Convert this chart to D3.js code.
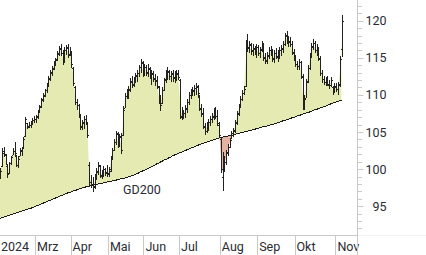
<!DOCTYPE html>
<html><head><meta charset="utf-8">
<script src="https://cdn.jsdelivr.net/npm/d3@7"></script>
<style>
html,body{margin:0;padding:0;background:#fff;overflow:hidden;}
svg{display:block;font-family:Roboto,"Open Sans",sans-serif;}
</style>
</head><body>
<svg id="chart" width="426" height="255"></svg>
<script>
// ---- data ----
const startDate = "2024-02-01";
const endDate = "2024-11-06";
const holidays = ["2024-03-29","2024-04-01","2024-05-01","2024-05-09","2024-05-20","2024-08-01"];
const monthLabels = ["2024","Mrz","Apr","Mai","Jun","Jul","Aug","Sep","Okt","Nov"];
const yTickValues = [95,100,105,110,115,120];
const maLabel = "GD200";

const opens = [
98.6,98.9,100.4,102.2,101.9,100.4,99.5,100.8,101.9,102.4,101.8,100.6,101.7,102.5,102.9,104.4,106.2,105.8,105.9,106.3,106.6,
106.8,107.1,107.8,108.5,109.3,110.0,110.6,111.4,112.2,113.1,113.5,114.3,114.8,115.5,116.3,115.6,114.6,116.0,116.4,115.5,
115.8,113.6,111.1,109.0,108.7,107.2,105.7,106.3,106.8,106.2,100.6,98.3,98.0,97.7,98.9,99.7,100.4,99.1,99.4,100.0,99.5,
99.5,100.0,101.4,102.6,103.6,104.7,103.2,104.3,104.6,108.3,109.8,110.2,110.7,111.8,111.4,112.1,112.6,113.0,113.8,114.3,
113.1,113.7,113.0,113.5,112.5,112.9,112.3,111.9,111.0,109.3,108.9,110.7,112.1,112.8,113.1,112.5,112.8,112.3,112.7,112.9,
112.0,107.0,107.5,107.5,108.1,109.1,110.0,110.3,110.5,110.9,111.1,109.9,108.1,107.4,105.7,105.1,105.7,106.3,106.8,107.1,107.8,107.1,106.0,
104.0,99.0,100.5,101.0,102.3,103.0,104.2,104.9,105.3,106.2,107.5,108.4,109.4,110.3,111.2,117.2,116.3,116.7,116.0,116.2,115.9,
116.4,115.6,116.2,116.8,115.1,114.7,115.3,116.0,115.7,114.9,115.7,115.1,115.5,116.0,116.3,116.8,118.1,117.3,117.1,116.9,115.7,
115.0,114.1,113.9,114.4,112.4,108.9,109.6,111.9,113.6,115.2,116.5,117.0,116.0,116.1,114.8,113.0,112.1,111.8,111.9,111.4,111.3,111.1,110.5,
111.1,110.8,111.5,116.2];

const highs = [
99.2,100.1,102.8,103.0,102.0,100.5,101.0,101.8,102.8,103.6,101.9,101.7,102.8,103.0,104.3,107.0,106.2,106.3,106.5,106.9,107.1,
107.3,108.0,108.7,109.6,110.2,110.8,111.6,112.6,113.3,113.9,114.6,115.0,115.9,116.6,116.8,116.0,116.4,116.7,116.8,116.5,
115.9,113.8,111.2,109.4,108.8,107.4,106.6,107.2,107.3,106.4,101.0,99.2,99.0,99.3,100.2,101.0,100.6,99.9,100.4,100.2,100.5,
100.3,101.8,102.8,104.0,105.2,105.0,104.7,104.8,108.5,110.3,110.8,111.2,112.3,112.6,112.4,113.0,113.4,114.0,114.8,114.6,
114.2,114.0,114.2,113.8,113.4,113.2,112.8,112.6,111.2,110.0,111.0,112.3,113.4,113.7,113.4,113.2,113.4,113.2,113.4,113.3,
112.2,108.4,108.0,108.6,109.4,110.4,110.8,111.0,111.4,111.6,111.4,110.0,108.8,108.2,106.2,106.4,106.8,107.2,107.6,108.2,108.4,108.0,106.4,
104.3,102.3,101.8,102.6,103.4,104.2,105.2,105.6,106.6,107.8,108.8,109.8,110.6,111.2,117.4,118.2,117.3,117.0,116.8,116.6,116.8,
116.7,116.5,117.3,117.0,115.6,115.8,116.4,116.6,116.2,116.0,116.3,116.0,116.4,116.7,117.2,118.3,118.6,118.0,117.8,117.2,116.2,
115.4,114.6,114.8,114.6,112.8,110.0,112.2,114.0,115.6,117.0,117.6,117.2,116.8,116.4,115.2,113.4,112.6,112.4,112.6,112.0,112.4,111.2,111.6,
111.6,111.8,115.2,120.8];

const lows = [
97.8,98.8,100.3,101.6,100.5,98.8,99.4,100.6,101.9,101.8,100.3,100.1,101.7,101.8,102.8,104.3,105.4,105.5,105.6,105.9,106.2,
106.2,106.8,107.6,108.2,109.0,109.7,110.3,111.0,111.9,112.6,113.3,113.9,114.6,115.2,115.2,114.0,114.5,115.4,115.0,115.2,
113.6,111.2,108.6,108.0,106.9,105.3,105.3,105.4,106.0,104.2,97.6,97.5,96.9,97.3,98.5,99.2,98.8,98.7,98.9,99.1,98.9,
99.0,99.6,101.2,102.4,103.2,102.8,103.0,102.0,104.4,108.2,109.4,109.5,110.4,110.9,111.0,111.6,111.8,112.4,113.0,112.4,
112.6,112.5,112.4,112.2,111.4,111.8,111.2,110.8,108.8,107.8,108.8,110.5,111.6,112.0,112.0,111.8,111.8,111.6,111.9,112.0,
106.8,106.6,106.8,106.9,107.6,108.6,109.4,109.8,109.8,110.0,109.6,107.8,107.0,105.4,104.6,104.8,105.2,105.8,106.2,106.6,106.8,105.8,104.2,
99.5,97.0,99.6,100.6,101.8,102.8,104.1,104.3,104.8,105.9,107.2,108.2,109.2,110.0,111.0,115.8,115.6,115.4,115.2,115.4,115.0,
115.2,115.0,115.8,114.6,114.2,114.2,114.8,115.2,114.5,114.3,114.8,114.5,114.8,115.2,115.6,116.6,116.9,116.5,116.4,115.4,114.6,
113.8,113.4,113.4,112.2,107.9,108.0,109.6,111.6,113.4,115.0,116.0,115.6,115.2,114.6,112.6,111.6,111.3,111.2,111.2,110.8,111.0,110.0,110.2,
110.4,110.0,111.0,115.1];

const closes = [
98.8,99.8,102.4,102.0,100.7,99.3,100.8,101.6,102.5,102.2,100.6,101.4,102.6,102.8,104.0,106.7,105.7,106.0,106.3,106.6,106.8,
107.0,107.8,108.4,109.4,109.9,110.6,111.3,112.3,113.0,113.6,114.2,114.7,115.6,116.2,115.7,114.5,116.0,116.3,115.4,115.9,
114.2,111.6,109.0,108.6,107.3,105.8,106.2,106.8,106.4,104.6,98.2,98.0,97.6,98.8,99.6,100.5,99.2,99.4,100.0,99.6,99.4,
99.8,101.5,102.6,103.7,104.8,103.3,104.4,102.6,108.0,109.9,110.3,110.8,111.9,111.5,112.0,112.7,113.0,113.7,114.4,113.0,
113.8,113.1,113.6,112.6,112.8,112.2,112.0,111.2,109.4,108.6,110.6,112.0,112.9,113.2,112.6,112.9,112.4,112.6,112.8,112.4,
107.2,107.4,107.6,108.2,109.0,110.0,110.4,110.6,110.9,111.2,110.2,108.2,107.6,105.8,105.2,105.6,106.4,106.8,107.0,107.8,107.2,106.2,104.6,
100.0,100.4,101.0,102.2,103.0,103.9,104.9,105.2,106.3,107.4,108.4,109.5,110.2,110.8,117.0,116.4,116.8,115.9,116.3,115.8,116.4,
115.6,116.1,117.0,115.0,114.6,115.4,116.0,115.6,115.0,115.6,115.2,115.4,116.0,116.2,116.9,118.0,117.4,117.2,116.8,115.8,115.0,
114.2,113.9,114.4,112.6,108.8,109.4,111.8,113.6,115.2,116.6,117.0,116.0,116.2,115.0,113.0,112.2,111.8,111.9,111.5,111.3,112.0,110.5,111.2,
110.8,111.4,114.8,119.9];

const gd200 = [
93.3,93.4,93.45,93.55,93.6,93.7,93.8,93.85,93.95,94.0,94.1,94.2,94.25,94.35,94.4,94.5,94.55,94.65,94.7,94.8,
94.9,95.0,95.1,95.2,95.3,95.4,95.5,95.6,95.7,95.8,95.9,96.0,96.1,96.2,
96.3,96.4,96.5,96.6,96.7,96.8,96.85,96.95,97.05,97.1,97.2,97.3,
97.35,97.45,97.5,97.6,97.65,97.75,97.8,
97.85,97.9,97.95,98.0,98.05,98.1,98.15,98.2,98.25,98.3,98.35,98.4,98.45,98.5,98.6,
98.65,98.7,98.75,98.8,98.9,98.95,99.0,99.1,99.2,
99.3,99.4,99.5,99.65,99.75,99.85,99.95,100.1,100.2,
100.3,100.45,100.55,100.7,100.8,100.95,101.05,101.2,101.3,101.4,101.55,101.65,101.8,101.9,
102.0,102.1,102.2,102.3,102.4,102.5,102.6,102.7,102.8,102.9,103.0,103.1,103.2,
103.3,103.4,103.45,103.55,103.65,103.7,103.8,103.9,103.95,104.05,104.1,104.2,
104.25,104.3,104.35,104.4,104.45,104.5,104.55,104.6,104.7,104.75,104.8,104.9,
104.95,105.0,105.05,105.1,105.2,105.25,105.3,
105.35,105.45,105.5,105.6,105.65,105.7,105.75,105.8,105.9,105.95,106.0,
106.1,106.15,106.25,106.3,106.4,106.5,106.55,106.65,106.7,106.8,
106.9,106.95,107.05,107.15,107.2,107.3,107.4,107.45,107.55,107.6,107.7,
107.8,107.9,108.0,108.05,108.15,108.25,108.3,108.4,
108.5,108.6,108.7,108.8,108.9,109.0,109.05,109.15,109.2,109.3];

// ---- trading calendar ----
const fmt = d3.timeFormat("%Y-%m-%d");
const parse = d3.timeParse("%Y-%m-%d");
const dates = d3.timeDay.range(parse(startDate), d3.timeDay.offset(parse(endDate), 1))
  .filter(d => d.getDay() !== 0 && d.getDay() !== 6 && !holidays.includes(fmt(d)));

const data = dates.map((d, i) => ({
  i, date: d, o: opens[i], h: highs[i], l: lows[i], c: closes[i], ma: gd200[i],
  mid: (highs[i] + lows[i]) / 2
}));

// ---- layout ----
const W = 426, H = 255;
const plotR = 357.5, axisY = 235;
const svg = d3.select("#chart");

const x = d3.scaleLinear().domain([0, dates.length - 1]).range([-1.4, 341.6]);
const y = d3.scaleLinear().domain([95, 120]).range([206.2, 20.7]);

const defs = svg.append("defs");
defs.append("clipPath").attr("id", "plot").append("rect")
  .attr("x", 0).attr("y", 0).attr("width", plotR).attr("height", axisY);

const maLine = d3.line().x(d => x(d.i)).y(d => y(d.ma));
const first = data[0], last = data[data.length - 1];
const maPath = maLine(data).slice(1);
defs.append("clipPath").attr("id", "above").append("path")
  .attr("d", `M${x(first.i)},-50L${maPath}L${x(last.i)},-50Z`);
defs.append("clipPath").attr("id", "below").append("path")
  .attr("d", `M${x(first.i)},400L${maPath}L${x(last.i)},400Z`);

const g = svg.append("g").attr("clip-path", "url(#plot)");

const area = d3.area().x(d => x(d.i)).y0(d => y(d.ma)).y1(d => y(d.mid));
g.append("g").attr("clip-path", "url(#above)").append("path")
  .attr("d", area(data)).attr("fill", "#e5eab3");
g.append("g").attr("clip-path", "url(#below)").append("path")
  .attr("d", area(data)).attr("fill", "#e2b3a3");

g.append("path").attr("d", maLine(data)).attr("fill", "none")
  .attr("stroke", "#1a1a1a").attr("stroke-width", 1).attr("shape-rendering", "crispEdges");

// OHLC bars
const bars = g.append("g").attr("fill", "#222").attr("shape-rendering", "crispEdges");
data.forEach(d => {
  const xi = Math.round(x(d.i));
  const yh = Math.round(y(d.h)), yl = Math.round(y(d.l));
  bars.append("rect").attr("x", xi).attr("y", yh).attr("width", 1).attr("height", Math.max(1, yl - yh));
  bars.append("rect").attr("x", xi - 1).attr("y", Math.round(y(d.o))).attr("width", 1).attr("height", 1);
  bars.append("rect").attr("x", xi + 1).attr("y", Math.round(y(d.c))).attr("width", 1).attr("height", 1);
});

// GD200 label
const labelIdx = 70;
svg.append("text").attr("x", x(labelIdx)).attr("y", y(data[labelIdx].ma) + 15.6)
  .attr("font-size", 12.5).attr("fill", "#2b2b33").text(maLabel);

// ---- axes ----
const axisColor = "#c9c9c9";
svg.append("line").attr("x1", 0).attr("x2", plotR).attr("y1", axisY + 0.5).attr("y2", axisY + 0.5)
  .attr("stroke", axisColor);
svg.append("line").attr("x1", plotR).attr("x2", W).attr("y1", axisY + 0.5).attr("y2", axisY + 0.5)
  .attr("stroke", "#f2f2f2");
svg.append("line").attr("x1", plotR).attr("x2", plotR).attr("y1", 0).attr("y2", axisY + 1)
  .attr("stroke", axisColor);

// y ticks
const minorTicks = d3.range(92, 123);
minorTicks.forEach(v => {
  const yy = Math.round(y(v)) + 0.5;
  const major = yTickValues.includes(v);
  svg.append("line").attr("x1", plotR).attr("x2", plotR + (major ? 6 : 4.5))
    .attr("y1", yy).attr("y2", yy).attr("stroke", axisColor);
});
yTickValues.forEach(v => {
  svg.append("text").attr("x", 386.5).attr("y", y(v)).attr("dy", "0.36em")
    .attr("text-anchor", "end").attr("font-size", 12.5).attr("fill", "#2b2b33").text(v);
});

// month separators
const monthStarts = [];
data.forEach((d, i) => {
  if (i === 0 || d.date.getMonth() !== data[i - 1].date.getMonth()) monthStarts.push(i);
});
monthStarts.forEach((k, j) => {
  const sx = x(k - 0.5);
  const px = Math.round(sx) + 0.5;
  if (sx > 0) svg.append("line").attr("x1", px).attr("x2", px).attr("y1", axisY).attr("y2", H)
    .attr("stroke", axisColor);
  svg.append("text").attr("x", Math.max(1, sx + 2)).attr("y", 251)
    .attr("font-size", 12.5).attr("fill", "#2b2b33").text(monthLabels[j]);
});
svg.append("line").attr("x1", plotR).attr("x2", plotR).attr("y1", axisY).attr("y2", H).attr("stroke", axisColor);
</script>
</body></html>
